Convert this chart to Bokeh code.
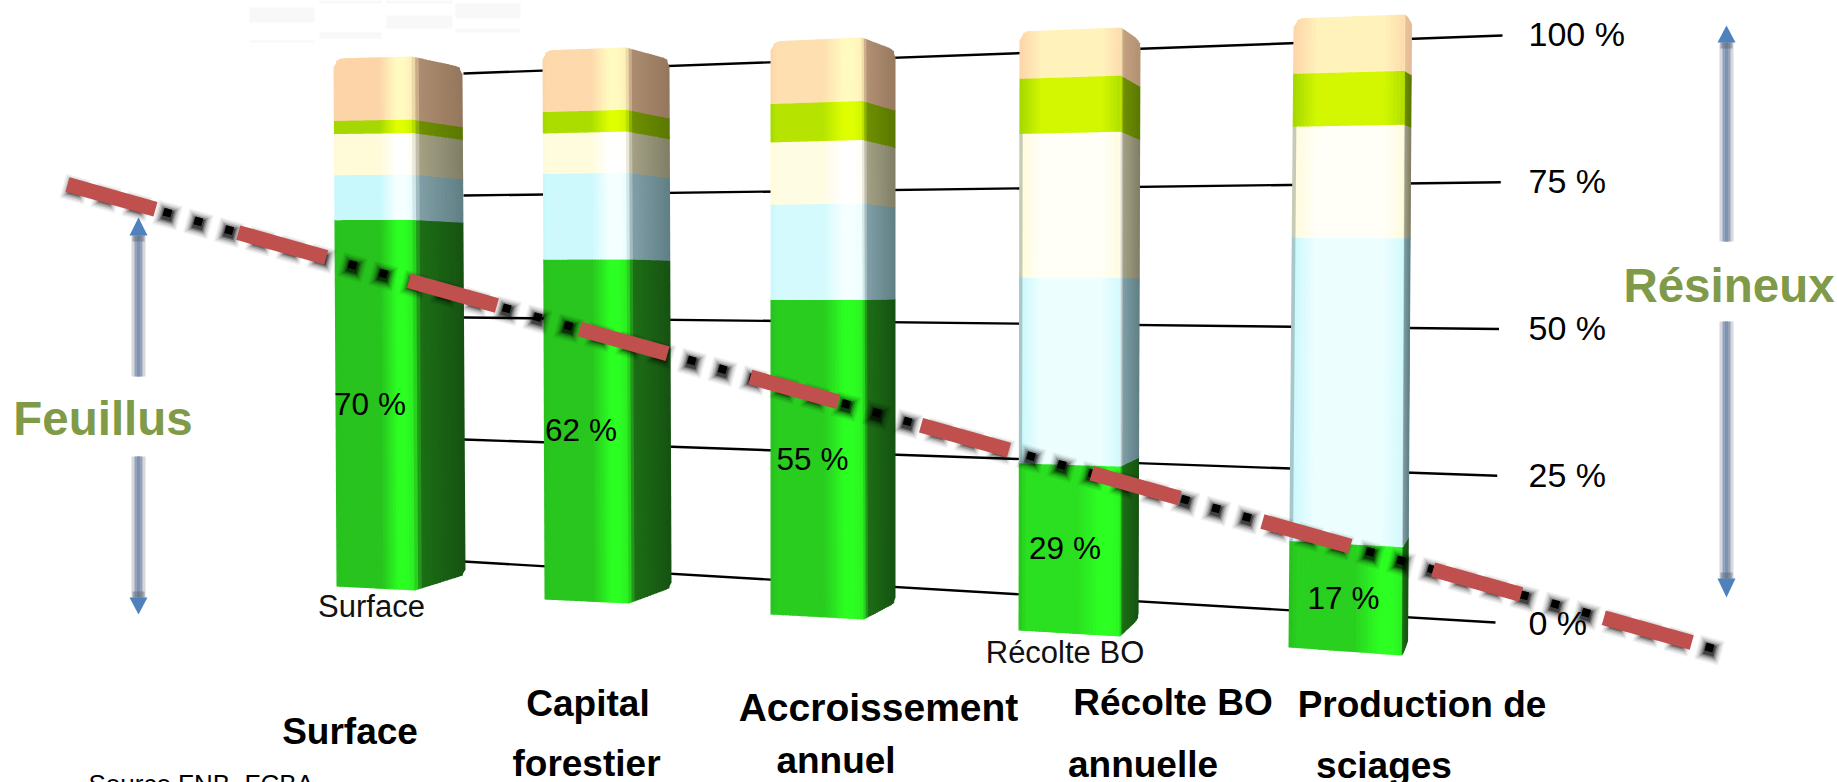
import numpy as np
from bokeh.core.properties import value
from bokeh.embed import file_html
from bokeh.models import FixedTicker, LinearAxis, Range1d
from bokeh.plotting import figure
from bokeh.resources import INLINE

# ---- data -------------------------------------------------------------
categories = ["Surface", "Capital forestier", "Accroissement annuel",
              "Récolte BO annuelle", "Production de sciages"]
share_labels = ["70 %", "62 %", "55 %", "29 %", "17 %"]
seg_green = [69.5, 62.0, 55.0, 28.0, 17.0]
seg_blue = [8.5, 15.6, 16.6, 31.0, 48.2]
seg_cream = [7.8, 7.4, 10.9, 24.0, 17.7]
seg_lime = [2.5, 3.9, 6.7, 9.2, 8.4]
seg_peach = [11.7, 11.1, 10.8, 7.8, 8.7]
tick_values = [0, 25, 50, 75, 100]
tick_labels = ["0 %", "25 %", "50 %", "75 %", "100 %"]

# ---- layout (image pixels) ---------------------------------------------
W, H = 1837, 782
FONT = "Liberation Sans"
FL = dict(xt=[333, 542, 770, 1019, 1293], xb=[336, 544, 770, 1018, 1288],
          yt=[58, 50, 41, 31, 18], yb=[586, 599, 614, 630, 647])
FR = dict(xt=[411, 625, 861, 1120, 1404], xb=[414, 628, 863, 1119, 1401],
          yt=[56, 47, 37, 27, 14], yb=[590, 603, 619, 636, 655])
RR = dict(xt=[462, 669, 895, 1140, 1411], xb=[465, 671, 895, 1138, 1407],
          yt=[67, 59, 50, 41, 20], yb=[574, 587, 602, 618, 642])
BAR_LIGHT = [0.0, 0.12, 0.3, 0.72, 0.78]
BLUE_LIGHT = [0.0, 0.1, 0.25, 0.7, 0.75]
GREEN_LIGHT = [0.05, 0.1, 0.2, 0.5, 0.25]
PEACH_SIDE_LIGHT = [0.0, 0.0, 0.05, 0.3, 0.8]
# base, highlight, side-left, side-right
PAL = {
    "green": ("#28C01E", "#2CFF22", "#1C6E15", "#165212"),
    "blue": ("#C8F8FC", "#F6FFFF", "#7F9EA5", "#5F7F85"),
    "cream": ("#FFFBD8", "#FFFFFF", "#A3A084", "#7F7E66"),
    "lime": ("#A4D800", "#DFFF00", "#6E9000", "#5A7800"),
    "peach": ("#FDD4A8", "#FFFAC0", "#AD8C70", "#93765C"),
}


def rgb(h):
    return np.array([int(h[i:i + 2], 16) for i in (1, 3, 5)], float)


def mix(a, b, t):
    c = rgb(a) * (1 - t) + rgb(b) * t
    return "#%02x%02x%02x" % tuple(int(round(v)) for v in c)


def edge(tbl, i, v):
    f = v / 100.0
    return (tbl["xb"][i] + (tbl["xt"][i] - tbl["xb"][i]) * f,
            tbl["yb"][i] + (tbl["yt"][i] - tbl["yb"][i]) * f)


def rounding(d, r):
    if d >= r:
        return 0.0
    return r * (1 - np.sqrt(1 - ((r - d) / r) ** 2))


xs_all, ys_all, col_all = [], [], []
segments = list(zip(["green", "blue", "cream", "lime", "peach"],
                    [seg_green, seg_blue, seg_cream, seg_lime, seg_peach]))
N_FRONT, N_SIDE = 30, 14
for i in range(len(categories)):
    bottom = 0.0
    for name, vals in segments:
        top = bottom + vals[i]
        base, hi, s0, s1 = PAL[name]
        light = {"green": GREEN_LIGHT, "blue": BLUE_LIGHT}.get(name, BAR_LIGHT)[i]
        base2 = mix(base, hi, light)
        if name == "peach":
            s0 = mix(s0, "#F8CFA6", PEACH_SIDE_LIGHT[i])
            s1 = mix(s1, "#F8CFA6", PEACH_SIDE_LIGHT[i])
        wide_glow = i >= 3 and name != "green"
        for face, (a, b, n) in enumerate([(FL, FR, N_FRONT), (FR, RR, N_SIDE)]):
            for k in range(n):
                t0, t1 = k / n, (k + 1) / n
                tm = (t0 + t1) / 2
                if face == 0:
                    if wide_glow:
                        # bars 4-5: tinted at both sides, palest in the middle
                        if tm < 0.22:
                            c = mix(base, hi, 0.8 * tm / 0.22)
                        elif tm < 0.82:
                            c = mix(base, hi, 0.8)
                        else:
                            c = mix(base, hi, 0.8 - 0.6 * (tm - 0.82) / 0.18)
                        if k == 0 and name in ("blue", "cream"):
                            c = mix(c, "#607070", 0.35)
                    elif tm < 0.07:
                        c = mix(base, base2, tm / 0.07)
                    elif tm < 0.58:
                        c = base2
                    elif tm < 0.8:
                        c = mix(base2, hi, (tm - 0.58) / 0.22)
                    else:
                        c = mix(hi, mix(base2, hi, 0.7), max(0, tm - 0.9) / 0.1)
                else:
                    if tm < 0.16:
                        c = mix(mix(base2, hi, 0.7), s0, tm / 0.16)
                    else:
                        c = mix(s0, s1, (tm - 0.16) / 0.84)

                def pt(tt, v):
                    xa, ya = edge(a, i, v)
                    xb_, yb_ = edge(b, i, v)
                    return xa + (xb_ - xa) * tt, ya + (yb_ - ya) * tt

                x00, y00 = pt(t0, bottom)
                x10, y10 = pt(t1, bottom)
                x11, y11 = pt(t1, top)
                x01, y01 = pt(t0, top)
                wid = abs(edge(b, i, top)[0] - edge(a, i, top)[0])
                if name == "peach":
                    if face == 0:
                        y01 += rounding(t0 * wid, 9)
                        y11 += rounding(t1 * wid, 9)
                    else:
                        y01 += rounding((1 - t0) * wid, 7)
                        y11 += rounding((1 - t1) * wid, 7)
                if name == "green" and face == 1:
                    y00 -= rounding((1 - t0) * wid, 5)
                    y10 -= rounding((1 - t1) * wid, 5)
                # small overlaps so that no seam shows between strips
                if not (face == 1 and k == n - 1):
                    x10 += 1.0
                    x11 += 1.0
                if name != "green":
                    y00 += 0.6
                    y10 += 0.6
                xs_all.append([x00, x10, x11, x01])
                ys_all.append([y00, y10, y11, y01])
                col_all.append(c)
        bottom = top

# ---- figure ------------------------------------------------------------
p = figure(width=W, height=H, output_backend="svg", toolbar_location=None,
           x_range=Range1d(0, W), y_range=Range1d(H, 0),
           x_axis_type=None, y_axis_type=None, min_border=0,
           outline_line_color=None, background_fill_color="white",
           border_fill_color="white")
p.grid.visible = False

# faint smudges top
p.quad(left=[249, 319, 386, 455, 319, 386, 455, 249],
       right=[314, 381, 452, 520, 381, 452, 520, 314],
       top=[7, 0, 0, 3, 32, 15, 28, 40],
       bottom=[22, 3, 3, 18, 38, 28, 32, 42],
       fill_color="#F8F8F8", line_color=None)

# gridlines in perspective, from the percent ticks
ticks = np.array(tick_values, float)
gx0 = np.full(5, 463.0)
gx1 = 1495 + 0.07 * ticks
gy0 = 561 - 4.88 * ticks
gy1 = 622 - 5.87 * ticks
p.segment(gx0, gy0, gx1, gy1, line_color="#000000", line_width=2.4)

# right-hand percent axis
y_per_pct = 5.89
p.extra_y_ranges["pct"] = Range1d((622 - H) / y_per_pct, 622 / y_per_pct)
axis = LinearAxis(y_range_name="pct", fixed_location=1528,
                  ticker=FixedTicker(ticks=tick_values),
                  major_label_overrides={t: l for t, l in zip(tick_values, tick_labels)},
                  axis_line_color=None, major_tick_line_color=None,
                  minor_tick_line_color=None, major_label_standoff=0,
                  major_tick_out=0, major_tick_in=0,
                  major_label_text_font=FONT, major_label_text_font_size="34px",
                  major_label_text_color="#000000")
axis.level = "underlay"
p.add_layout(axis, "right")

# bars
p.patches(xs_all, ys_all, fill_color=col_all, line_color=None)

# labels inside bars
p.text([369.5, 580.5, 812, 1064.5, 1343], [403, 429, 458, 547, 597], text=share_labels,
       text_font=value(FONT), text_font_size=value("31.5px"), text_color="#000000",
       text_align="center", text_baseline="middle")
p.text([371, 1064.5], [606, 652], text=["Surface", "Récolte BO"],
       text_font=value(FONT), text_font_size=value("31px"), text_color="#111111",
       text_align="center", text_baseline="middle")

# category labels
cat_lines = [["Surface"], ["Capital", "forestier"], ["annuel"],
             ["Récolte BO", "annuelle"], ["Production de", "sciages"]]
cat_x = [[349.5], [587.5, 586], [835.5], [1172.5, 1142.5], [1421.5, 1383.5]]
cat_y = [[731], [703, 763], [760], [702, 764], [704, 765]]
tx, ty, tt = [], [], []
for ls, xx, yy in zip(cat_lines, cat_x, cat_y):
    tt += ls
    tx += xx
    ty += yy
p.text(tx, ty, text=tt, text_font=value(FONT), text_font_size=value("37px"),
       text_font_style="bold", text_color="#000000", text_align="center",
       text_baseline="middle")
p.text([878], [707], text=["Accroissement"], text_font=value(FONT),
       text_font_size=value("39px"), text_font_style="bold", text_color="#000000",
       text_align="center", text_baseline="middle")

p.text([88], [768], text=["Source FNB, FCBA"], text_font=value(FONT),
       text_font_size=value("26px"), text_color="#000000", text_align="left",
       text_baseline="top")

# group titles
p.text([102.5, 1728.5], [418, 285], text=["Feuillus", "Résineux"], text_font=value(FONT),
       text_font_size=value("47.5px"), text_font_style="bold", text_color="#7F9A48",
       text_align="center", text_baseline="middle")

# arrows
ARX = [138, 138, 1726, 1726]
AR_Y0 = [235, 456, 42, 321]
AR_Y1 = [376, 597, 241, 578]
for w, c, a in [(14, "#C4C8D0", 0.7), (8, "#8F9DB2", 0.9), (3, "#7A93B8", 1.0)]:
    p.segment(ARX, AR_Y0, ARX, AR_Y1, line_color=c, line_width=w, line_alpha=a)
for x, tip, base in [(138, 217, 235), (138, 614, 597), (1726, 25, 42), (1726, 597, 578)]:
    sgn = 1 if base > tip else -1
    p.quad([x - 6], [x + 6], [base - 2 * sgn], [base + 6 * sgn],
           fill_color="#555A66", fill_alpha=0.4, line_color=None)
    p.patch([x - 9, x + 9, x], [base, base, tip], fill_color="#4F81BD", line_color=None)

# dotted + dashed trend line
X0, Y0, SLOPE = 67.0, 184.0, 0.282
dot_x = 167 + 30.84 * np.arange(-3, 51)
dot_y = Y0 + (dot_x - X0) * SLOPE
for size, alpha in [(25, 0.06), (22, 0.08), (19, 0.12), (16, 0.2), (13, 0.3), (10.5, 0.4)]:
    p.scatter(dot_x, dot_y + 2.5, size=size, marker="square", angle=-0.27,
              fill_color="#000000", fill_alpha=alpha, line_color=None)
p.scatter(dot_x, dot_y, size=8, marker="square", angle=-0.27, fill_color="#000000",
          line_color=None)

dash_x0 = X0 + 170.7 * np.arange(10)
dash_x1 = dash_x0 + 88
p.segment(dash_x0, Y0 + (dash_x0 - X0) * SLOPE, dash_x1, Y0 + (dash_x1 - X0) * SLOPE,
          line_color="#C0504D", line_width=15, line_cap="butt")

open("out.html", "w").write(file_html(p, INLINE))
